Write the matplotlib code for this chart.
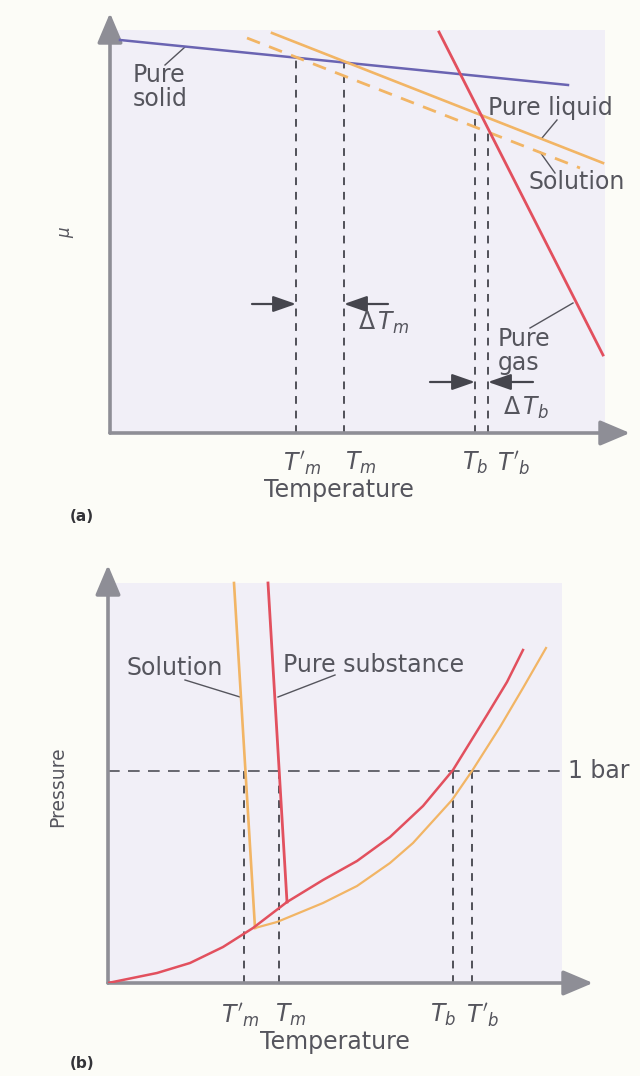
import matplotlib
matplotlib.use('Agg')
import matplotlib.pyplot as plt
from matplotlib.patches import Rectangle
import numpy as np

plt.rcParams['font.family'] = ['DejaVu Sans']
plt.rcParams['mathtext.fontset'] = 'dejavusans'

# ---------------- data, panel (a): chemical potential vs temperature (arbitrary units)
solid_T = [10, 458]
solid_mu = [393, 348]
liquid_T = [162, 493]
liquid_mu = [400, 270]
solution_T = [137, 470]
solution_mu = [395, 265]
gas_T = [329, 493]
gas_mu = [401, 78]
Tm_prime_a, Tm_a, Tb_a, Tb_prime_a = 186, 234, 365, 378
tick_labels = [r"$T'_m$", r"$T_m$", r"$T_b$", r"$T'_b$"]

# ---------------- data, panel (b): phase diagram (arbitrary units)
pure_melt_T = [160, 179]
pure_melt_P = [400, 81]
pure_sub_T = [0, 49, 82, 115, 145, 179]
pure_sub_P = [0, 10, 20, 36, 55, 81]
pure_vap_T = [179, 215, 249, 282, 315, 345, 379, 399, 415]
pure_vap_P = [81, 103, 122, 146, 177, 213, 268, 301, 333]
sol_melt_T = [126, 147]
sol_melt_P = [400, 55]
sol_vap_T = [147, 169, 215, 249, 282, 305, 344, 364, 392, 415, 438]
sol_vap_P = [55, 61, 80, 97, 120, 140, 183, 212, 256, 295, 335]
P_1bar = 212
Tm_prime_b, Tm_b, Tb_b, Tb_prime_b = 136, 171, 345, 364

# ---------------- style
BG = '#fcfcf7'
SHADE = '#f1eff7'
AXC = '#8e8e96'
TXT = '#55555d'
DASHC = '#505058'
BLUE = '#6a64b2'
ORANGE = '#f2b565'
RED = '#e2505e'
FS = 17

W, H = 640, 1076
fig = plt.figure(figsize=(W / 100, H / 100), dpi=100)
fig.patch.set_facecolor(BG)


def add_ax(x0, y0, x1, y1):
    ax = fig.add_axes([x0 / W, 1 - y1 / H, (x1 - x0) / W, (y1 - y0) / H])
    ax.axis('off')
    return ax


def axis_arrows(ax, xmax, ymax):
    for end in [(xmax, 0), (0, ymax)]:
        ax.annotate('', xy=end, xytext=(0, 0), annotation_clip=False,
                    arrowprops=dict(arrowstyle='-|>,head_length=1.3,head_width=0.55',
                                    color=AXC, lw=2.6, shrinkA=0, shrinkB=0,
                                    mutation_scale=14))


def small_arrow(ax, x_from, x_to, y):
    ax.annotate('', xy=(x_to, y), xytext=(x_from, y), annotation_clip=False,
                arrowprops=dict(arrowstyle='-|>,head_length=1.0,head_width=0.35',
                                color='#45454d', lw=1.6, shrinkA=0, shrinkB=0,
                                mutation_scale=14))


vdash = dict(color=DASHC, lw=1.4, ls=(0, (4, 3.5)))

# ================= panel (a)
axa = add_ax(110, 13, 630, 433)
axa.set_xlim(0, 520)
axa.set_ylim(0, 420)
axa.add_patch(Rectangle((0, 0), 495, 403, facecolor=SHADE, edgecolor='none', zorder=0))
axis_arrows(axa, 520, 420)

axa.plot(solid_T, solid_mu, color=BLUE, lw=1.8, zorder=3)
axa.plot(liquid_T, liquid_mu, color=ORANGE, lw=1.9, zorder=3)
axa.plot(solution_T, solution_mu, color=ORANGE, lw=2.0, ls=(0, (5, 3.5)), zorder=3)
axa.plot(gas_T, gas_mu, color=RED, lw=2.0, zorder=4)

axa.plot([Tm_prime_a] * 2, [0, np.interp(Tm_prime_a, solid_T, solid_mu)], **vdash)
axa.plot([Tm_a] * 2, [0, np.interp(Tm_a, solid_T, solid_mu)], **vdash)
axa.plot([Tb_a] * 2, [0, np.interp(Tb_a, liquid_T, liquid_mu)], **vdash)
axa.plot([Tb_prime_a] * 2, [0, np.interp(Tb_prime_a, solution_T, solution_mu)], **vdash)

small_arrow(axa, Tm_prime_a - 44, Tm_prime_a, 129)
small_arrow(axa, Tm_a + 44, Tm_a, 129)
small_arrow(axa, Tb_a - 45, Tb_a, 51)
small_arrow(axa, Tb_prime_a + 45, Tb_prime_a, 51)

# leader lines
lead = dict(color='#55555d', lw=1.0)
axa.plot([55, 75], [368, 386], **lead)
axa.plot([432, 447], [295, 313], **lead)
axa.plot([430, 445], [281, 260], **lead)
axa.plot([420, 463], [105, 130], **lead)

tkw = dict(color=TXT, fontsize=FS, va='center', clip_on=False)
axa.text(23, 346, 'Pure\nsolid', ha='left', linespacing=0.95, **tkw)
axa.text(378, 325, 'Pure liquid', ha='left', **tkw)
axa.text(418, 251, 'Solution', ha='left', **tkw)
axa.text(388, 82, 'Pure\ngas', ha='left', linespacing=0.95, **tkw)
axa.text(248, 110, r'$\Delta\,T_m$', ha='left', **tkw)
axa.text(393, 25, r'$\Delta\,T_b$', ha='left', **tkw)
for xl, lab in zip([192, 251, 365, 404], tick_labels):
    axa.text(xl, -30, lab, ha='center', **tkw)
axa.text(229, -57, 'Temperature', ha='center', **tkw)
axa.text(-43, 201, r'$\mu$', ha='center', rotation=90, color=TXT, fontsize=12,
         va='center', clip_on=False)
axa.text(-40, -84, '(a)', ha='left', va='center', color='#333338', fontsize=11,
         fontweight='bold', clip_on=False)

# ================= panel (b)
axb = add_ax(108, 565, 593, 983)
axb.set_xlim(0, 485)
axb.set_ylim(0, 418)
axb.add_patch(Rectangle((0, 0), 454, 400, facecolor=SHADE, edgecolor='none', zorder=0))
axis_arrows(axb, 485, 418)

axb.plot(sol_melt_T, sol_melt_P, color=ORANGE, lw=1.9, zorder=3)
axb.plot(sol_vap_T, sol_vap_P, color=ORANGE, lw=1.6, zorder=3)
axb.plot(pure_melt_T, pure_melt_P, color=RED, lw=2.0, zorder=4)
axb.plot(pure_sub_T, pure_sub_P, color=RED, lw=1.8, zorder=4)
axb.plot(pure_vap_T, pure_vap_P, color=RED, lw=1.8, zorder=4)

axb.plot([0, 457], [P_1bar, P_1bar], color=DASHC, lw=1.2, ls=(0, (7, 5)), zorder=2)
for tx in [Tm_prime_b, Tm_b, Tb_b, Tb_prime_b]:
    axb.plot([tx, tx], [0, P_1bar], zorder=2, **vdash)

axb.plot([77, 132], [303, 286], **lead)
axb.plot([170, 227], [286, 308], **lead)

axb.text(19, 315, 'Solution', ha='left', **tkw)
axb.text(175, 318, 'Pure substance', ha='left', **tkw)
axb.text(460, P_1bar, '1 bar', ha='left', **tkw)
for xl, lab in zip([132, 183, 335, 375], tick_labels):
    axb.text(xl, -32, lab, ha='center', **tkw)
axb.text(227, -59, 'Temperature', ha='center', **tkw)
axb.text(-50, 196, 'Pressure', ha='center', va='center', rotation=90, color=TXT,
         fontsize=13.5, clip_on=False)
axb.text(-38, -80, '(b)', ha='left', va='center', color='#333338', fontsize=11,
         fontweight='bold', clip_on=False)

fig.savefig('out.png', dpi=100, facecolor=BG)
